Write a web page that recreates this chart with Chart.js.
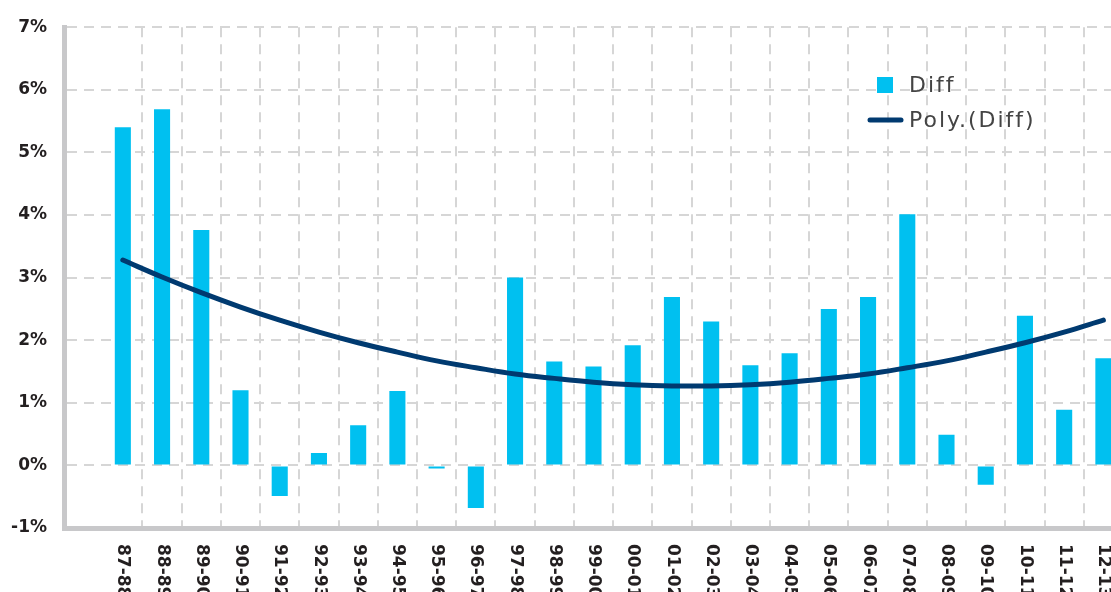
<!DOCTYPE html>
<html>
<head>
<meta charset="utf-8">
<script src="https://cdn.jsdelivr.net/npm/chart.js@4.4.1/dist/chart.umd.min.js"></script>
<style>
    html, body { margin: 0; padding: 0; background: #fff; overflow: hidden; }
    #wrap { width: 1125px; height: 592px; }
</style>
</head>
<body>
<div id="wrap"><canvas id="diffChart" width="1125" height="592"></canvas></div>
<script>
// first slot is an empty category, the chart leaves a gap before 87-88
const PERIODS = ['', '87-88', '88-89', '89-90', '90-91', '91-92', '92-93', '93-94', '94-95', '95-96',
    '96-97', '97-98', '98-99', '99-00', '00-01', '01-02', '02-03', '03-04', '04-05', '05-06',
    '06-07', '07-08', '08-09', '09-10', '10-11', '11-12', '12-13'];

const DIFF = [null, 5.40, 5.69, 3.76, 1.20, -0.49, 0.20, 0.64, 1.19, -0.05,
    -0.68, 3.00, 1.66, 1.58, 1.92, 2.69, 2.30, 1.60, 1.79, 2.50,
    2.69, 4.01, 0.49, -0.31, 2.39, 0.89, 1.71];

// polynomial trendline at each period
const POLY_DIFF = [null, 3.28, 3.01, 2.76, 2.53, 2.32, 2.13, 1.96, 1.81, 1.67,
    1.56, 1.46, 1.39, 1.33, 1.29, 1.27, 1.27, 1.29, 1.33, 1.39,
    1.46, 1.56, 1.67, 1.81, 1.96, 2.13, 2.32];

const Y_MIN = -1;
const Y_MAX = 7;

const BAR_COLOR = '#00c0f0';
const LINE_COLOR = '#003a70';
const GRID_COLOR = '#d6d6d6';
const AXIS_COLOR = '#c8c8ca';
const TEXT_COLOR = '#231f20';

const verticalLabels = {
    id: 'verticalLabels',
    afterDraw(chart) {
        const { ctx, chartArea, scales: { x } } = chart;
        ctx.save();
        ctx.font = 'bold 17px "DejaVu Sans"';
        ctx.fillStyle = TEXT_COLOR;
        ctx.textAlign = 'left';
        ctx.textBaseline = 'middle';
        PERIODS.forEach((p, i) => {
            if (!p) return;
            ctx.save();
            ctx.translate(x.getPixelForValue(i), chartArea.bottom + 16);
            ctx.rotate(Math.PI / 2);
            ctx.fillText(p, 0, 0);
            ctx.restore();
        });
        ctx.restore();
    }
};

const innerLegend = {
    id: 'innerLegend',
    afterDraw(chart) {
        const { ctx } = chart;
        const bars = chart.data.datasets[1];
        const trend = chart.data.datasets[0];
        ctx.save();
        ctx.fillStyle = bars.backgroundColor;
        ctx.fillRect(877, 77, 16, 16);

        ctx.strokeStyle = trend.borderColor;
        ctx.lineWidth = 5;
        ctx.lineCap = 'round';
        ctx.beginPath();
        ctx.moveTo(870, 120);
        ctx.lineTo(901, 120);
        ctx.stroke();

        ctx.font = '22px "DejaVu Sans"';
        ctx.letterSpacing = '2px';
        ctx.fillStyle = '#444';
        ctx.textBaseline = 'middle';
        ctx.fillText(bars.label, 909, 86);
        ctx.fillText(trend.label, 909, 121);
        ctx.restore();
    }
};

new Chart(document.getElementById('diffChart'), {
    data: {
        labels: PERIODS,
        datasets: [
            {
                type: 'line', label: 'Poly.(Diff)', data: POLY_DIFF, order: 0,
                borderColor: LINE_COLOR, borderWidth: 5, pointRadius: 0,
                tension: 0.4, borderCapStyle: 'round',
            },
            {
                type: 'bar', label: 'Diff', data: DIFF, order: 1,
                backgroundColor: BAR_COLOR, barPercentage: 0.41, categoryPercentage: 1,
                inflateAmount: 0,
            },
        ],
    },
    plugins: [verticalLabels, innerLegend],
    options: {
        responsive: false,
        animation: false,
        layout: { padding: { top: 22, right: 2, left: 0, bottom: 0 } },
        plugins: { legend: { display: false }, tooltip: { enabled: false } },
        scales: {
            x: {
                grid: {
                    offset: true,
                    color: c => (c.index <= 1 ? 'rgba(0,0,0,0)' : GRID_COLOR),
                    lineWidth: 2,
                    drawTicks: false,
                },
                border: { color: AXIS_COLOR, width: 5, dash: [10, 7] },
                ticks: { display: false },
                afterFit: s => { s.height = 64; },
            },
            y: {
                min: Y_MIN,
                max: Y_MAX,
                grid: { color: GRID_COLOR, lineWidth: 2, drawTicks: false },
                border: { color: AXIS_COLOR, width: 5, dash: [10, 7] },
                ticks: {
                    stepSize: 1,
                    padding: 17,
                    color: TEXT_COLOR,
                    font: { family: 'DejaVu Sans', size: 17, weight: 'bold' },
                    callback: v => v + '%',
                },
                afterFit: s => { s.width = 64; },
            },
        },
    },
});
</script>
</body>
</html>
